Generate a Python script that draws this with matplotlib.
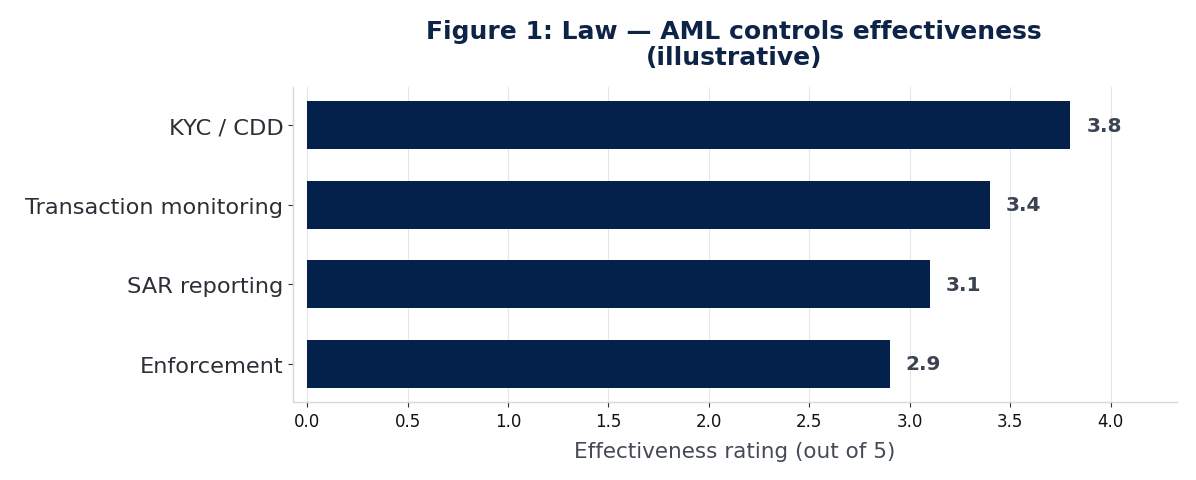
import matplotlib
matplotlib.use("Agg")
import matplotlib.pyplot as plt

# data
controls = ["KYC / CDD", "Transaction monitoring", "SAR reporting", "Enforcement"]
ratings = [3.8, 3.4, 3.1, 2.9]
xticks = [0.0, 0.5, 1.0, 1.5, 2.0, 2.5, 3.0, 3.5, 4.0]

navy = "#03214a"
fig = plt.figure(figsize=(11.96, 4.81), dpi=100)
ax = fig.add_axes([0.245, 0.162, 0.739, 0.655])

ypos = list(range(len(controls)))
ax.barh(ypos, ratings, height=0.6, color=navy, zorder=3)
ax.set_yticks(ypos)
ax.set_yticklabels(controls)
ax.set_ylim(3.48, -0.48)

for y, v in zip(ypos, ratings):
    ax.text(v + 0.08, y, f"{v:.1f}", va="center", ha="left",
            fontsize=14.5, fontweight="bold", color="#3b4250")

ax.set_xlim(-0.07, 4.33)
ax.set_xticks(xticks)
ax.set_xticklabels([f"{t:.1f}" for t in xticks])
ax.grid(axis="x", color="#e3e6ea", linewidth=0.8, zorder=0)
ax.set_axisbelow(True)

for s in ("top", "right"):
    ax.spines[s].set_visible(False)
for s in ("left", "bottom"):
    ax.spines[s].set_color("#d5d9de")
    ax.spines[s].set_linewidth(1.0)

ax.tick_params(axis="y", labelsize=16.2, labelcolor="#2b2f36", length=3.5, color="#333333")
ax.tick_params(axis="x", labelsize=12, labelcolor="#111111", length=3.5, color="#333333")
ax.set_xlabel("Effectiveness rating (out of 5)", fontsize=15.5, color="#444b57", labelpad=8)

fig.text(0.6137, 0.907, "Figure 1: Law \u2014 AML controls effectiveness\n(illustrative)",
         ha="center", va="center", fontsize=18, fontweight="bold", color="#0d2447",
         linespacing=1.12)

fig.savefig("out.png", dpi=100)
